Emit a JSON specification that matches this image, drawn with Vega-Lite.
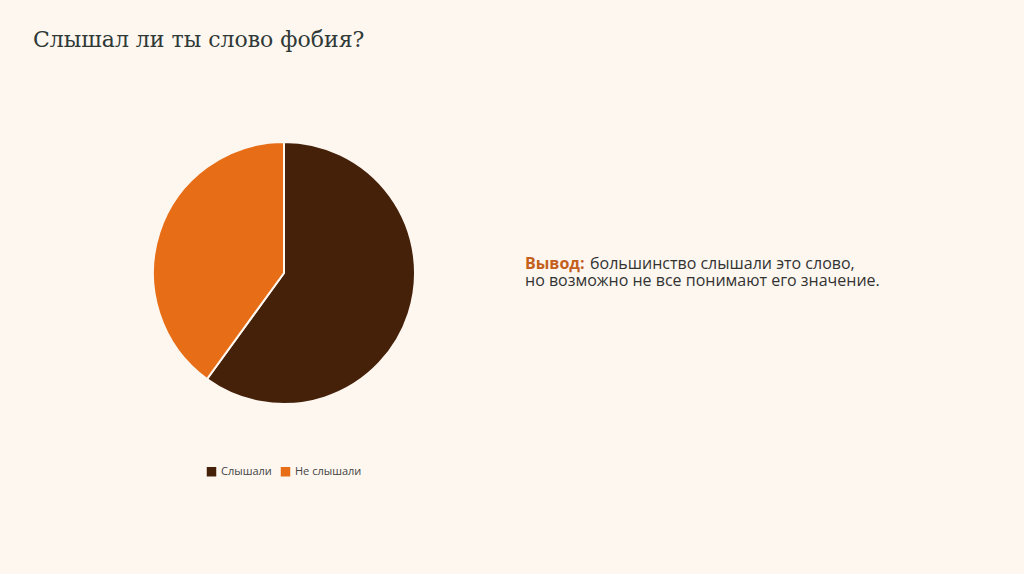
{
  "$schema": "https://vega.github.io/schema/vega-lite/v6.json",
  "background": "#fdf7f0",
  "padding": {"left": 33, "top": 29, "right": 145, "bottom": 100},
  "title": {
    "text": "Слышал ли ты слово фобия?",
    "anchor": "start",
    "dx": -116,
    "offset": 86,
    "font": "DejaVu Serif",
    "fontSize": 22,
    "fontWeight": "normal",
    "color": "#2f3936"
  },
  "config": {
    "view": {"stroke": null},
    "legend": {"layout": {"bottom": {"anchor": "middle"}}}
  },
  "resolve": {"legend": {"color": "independent"}},
  "spacing": 10,
  "hconcat": [
    {
      "width": 262,
      "height": 262,
      "data": {
        "values": [
          {"answer": "Слышали", "value": 60},
          {"answer": "Не слышали", "value": 40}
        ]
      },
      "mark": {"type": "arc", "stroke": "#fdf7f0", "strokeWidth": 2},
      "encoding": {
        "theta": {"field": "value", "type": "quantitative", "stack": true},
        "order": {"field": "value", "sort": "descending"},
        "color": {
          "field": "answer",
          "type": "nominal",
          "scale": {"domain": ["Слышали", "Не слышали"], "range": ["#45210a", "#e76d16"]},
          "legend": {
            "title": null,
            "orient": "bottom",
            "direction": "horizontal",
            "symbolType": "square",
            "symbolSize": 90,
            "symbolStrokeWidth": 0,
            "labelFont": "Open Sans",
            "labelFontSize": 11,
            "labelColor": "#444444",
            "columnPadding": 8,
            "offset": 62
          }
        }
      }
    },
    {
      "width": 192,
      "height": 262,
      "layer": [
        {
          "data": {"values": [{"text": "Вывод:"}]},
          "mark": {"type": "text", "align": "left", "baseline": "middle", "dy": -9, "font": "Open Sans", "fontSize": 16, "fontWeight": "bold", "color": "#c4601c"},
          "encoding": {"text": {"field": "text"}}
        },
        {
          "data": {"values": [{"text": "большинство слышали это слово,"}]},
          "mark": {"type": "text", "align": "left", "baseline": "middle", "dy": -9, "dx": 65, "font": "Open Sans", "fontSize": 16, "color": "#333333"},
          "encoding": {"text": {"field": "text"}}
        },
        {
          "data": {"values": [{"text": "но возможно не все понимают его значение."}]},
          "mark": {"type": "text", "align": "left", "baseline": "middle", "dy": 8, "font": "Open Sans", "fontSize": 16, "color": "#333333"},
          "encoding": {"text": {"field": "text"}}
        }
      ]
    }
  ]
}
